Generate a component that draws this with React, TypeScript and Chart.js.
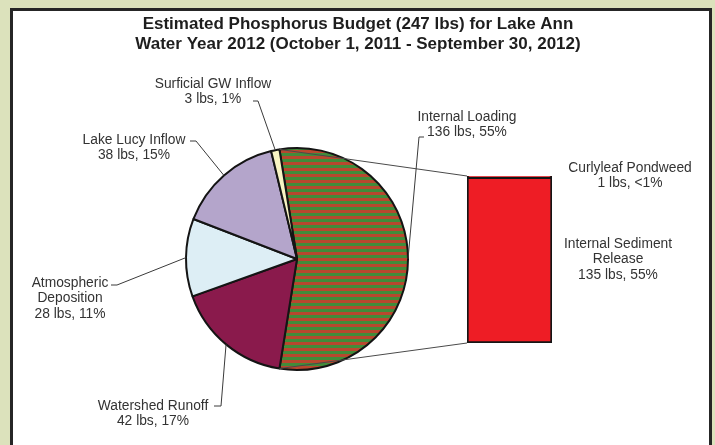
import React, { useEffect, useRef } from 'react';
import { Chart, registerables } from 'chart.js';

Chart.register(...registerables);

// ---------- data ----------
const titleLines = [
  'Estimated Phosphorus Budget (247 lbs) for Lake Ann',
  'Water Year 2012 (October 1, 2011 - September 30, 2012)',
];
const pieCategories = [
  'Internal Loading',
  'Watershed Runoff',
  'Atmospheric Deposition',
  'Lake Lucy Inflow',
  'Surficial GW Inflow',
];
const pieValues = [136, 42, 28, 38, 3];
const pieLabelLines = [
  ['Internal Loading'],
  ['Watershed Runoff'],
  ['Atmospheric', 'Deposition'],
  ['Lake Lucy Inflow'],
  ['Surficial GW Inflow'],
];
const barCategories = ['Internal Sediment Release', 'Curlyleaf Pondweed'];
const barValues = [135, 1];
const barLabelLines = [['Internal Sediment', 'Release'], ['Curlyleaf Pondweed']];

const total = pieValues.reduce((a, b) => a + b, 0);
const pctText = (v: number) => {
  const p = (v / total) * 100;
  return p < 1 ? '<1%' : Math.round(p) + '%';
};
const valueLine = (v: number) => `${v} lbs, ${pctText(v)}`;

export default function App() {
  const barRef = useRef<HTMLCanvasElement | null>(null);
  const pieRef = useRef<HTMLCanvasElement | null>(null);

  useEffect(() => {
    if (!barRef.current || !pieRef.current) return;

    // stripe pattern for internal loading
    const pc = document.createElement('canvas');
    pc.width = 4;
    pc.height = 6;
    const pctx = pc.getContext('2d')!;
    pctx.fillStyle = '#b8482e';
    pctx.fillRect(0, 0, 4, 3);
    pctx.fillStyle = '#428c3a';
    pctx.fillRect(0, 3, 4, 3);
    const pattern = pieRef.current.getContext('2d')!.createPattern(pc, 'repeat')!;

    const barChart = new Chart(barRef.current, {
      type: 'bar',
      data: {
        labels: ['Other'],
        datasets: barValues.map((v, i) => ({
          label: barCategories[i],
          data: [v],
          backgroundColor: '#ee1d25',
          borderColor: '#151515',
          borderWidth: 2,
          borderSkipped: false,
          barPercentage: 1,
          categoryPercentage: 1,
        })),
      },
      options: {
        animation: false,
        responsive: false,
        layout: { padding: { left: 467, right: 163, top: 176, bottom: 102 } },
        scales: {
          x: { display: false, stacked: true },
          y: { display: false, stacked: true, min: 0, max: barValues.reduce((a, b) => a + b, 0) },
        },
        plugins: { legend: { display: false }, tooltip: { enabled: false } },
      },
    });

    const labelFont = '13.8px "Liberation Sans", Arial, sans-serif';
    const lineH = 15.5;

    const pieLayout = [
      { x: 467, y: 117, tick: [424, 137, 419, 137] },
      { x: 153, y: 406, tick: [214, 406, 221, 406] },
      { x: 70, y: 283, tick: [111, 285, 117, 285] },
      { x: 134, y: 140, tick: [190, 141, 196, 141] },
      { x: 213, y: 84, tick: [253, 101, 258, 101] },
    ];
    const barLayout = [
      { x: 618, y: 244 },
      { x: 630, y: 168 },
    ];

    const annot = {
      id: 'annot',
      afterDraw(chart: any) {
        const ctx = chart.ctx as CanvasRenderingContext2D;
        ctx.save();
        // title
        ctx.fillStyle = '#1e1e1e';
        ctx.font = 'bold 17px "Liberation Sans", Arial, sans-serif';
        ctx.textAlign = 'center';
        ctx.textBaseline = 'middle';
        titleLines.forEach((t, i) => ctx.fillText(t, 358, 24 + i * 20));

        const arcs = chart.getDatasetMeta(0).data;
        // connectors to bar
        const a0 = arcs[0];
        const r = a0.outerRadius;
        const bar0 = barChart.getDatasetMeta(0).data[0] as any;
        const barTopEl = barChart.getDatasetMeta(barValues.length - 1).data[0] as any;
        const bx = bar0.x - bar0.width / 2;
        const bTop = barTopEl.y;
        const bBot = bar0.base;
        ctx.strokeStyle = '#4a4a4a';
        ctx.lineWidth = 1;
        ctx.beginPath();
        ctx.moveTo(a0.x + Math.cos(a0.startAngle) * r, a0.y + Math.sin(a0.startAngle) * r);
        ctx.lineTo(bx, bTop);
        ctx.moveTo(a0.x + Math.cos(a0.endAngle) * r, a0.y + Math.sin(a0.endAngle) * r);
        ctx.lineTo(bx, bBot);
        ctx.stroke();

        // pie labels + leaders
        ctx.font = labelFont;
        pieLayout.forEach((L, i) => {
          const a = arcs[i];
          const mid = (a.startAngle + a.endAngle) / 2;
          const px = a.x + Math.cos(mid) * a.outerRadius;
          const py = a.y + Math.sin(mid) * a.outerRadius;
          ctx.strokeStyle = '#3a3a3a';
          ctx.beginPath();
          ctx.moveTo(L.tick[0], L.tick[1]);
          ctx.lineTo(L.tick[2], L.tick[3]);
          ctx.lineTo(px, py);
          ctx.stroke();
          const lines = [...pieLabelLines[i], valueLine(pieValues[i])];
          ctx.fillStyle = '#333';
          lines.forEach((t, j) => ctx.fillText(t, L.x, L.y + j * lineH));
        });

        // bar labels
        barLayout.forEach((L, i) => {
          const lines = [...barLabelLines[i], valueLine(barValues[i])];
          ctx.fillStyle = '#333';
          lines.forEach((t, j) => ctx.fillText(t, L.x, L.y + j * lineH));
        });
        ctx.restore();
      },
    };

    const pieChart = new Chart(pieRef.current, {
      type: 'pie',
      data: {
        labels: pieCategories,
        datasets: [
          {
            data: pieValues,
            backgroundColor: [pattern as any, '#8a1a4c', '#ddeef5', '#b4a5cb', '#f8f4c4'],
            borderColor: '#141414',
            borderWidth: 2,
          },
        ],
      },
      options: {
        animation: false,
        responsive: false,
        rotation: 90 - (pieValues[0] / total) * 180,
        radius: 111,
        layout: { padding: { left: 177, right: 298, top: 139, bottom: 66 } },
        plugins: { legend: { display: false }, tooltip: { enabled: false } },
      },
      plugins: [annot],
    });

    return () => {
      pieChart.destroy();
      barChart.destroy();
    };
  }, []);

  return (
    <div
      style={{
        position: 'fixed',
        left: 0,
        top: 0,
        width: 715,
        height: 445,
        background: '#dce2bc',
        overflow: 'hidden',
      }}
    >
      <div
        style={{
          position: 'absolute',
          left: 10,
          top: 8,
          width: 702,
          height: 470,
          border: '3px solid #262626',
          background: '#fff',
          boxSizing: 'border-box',
        }}
      />
      <canvas ref={barRef} width={715} height={445} style={{ position: 'absolute', left: 0, top: 0 }} />
      <canvas ref={pieRef} width={715} height={445} style={{ position: 'absolute', left: 0, top: 0 }} />
    </div>
  );
}
